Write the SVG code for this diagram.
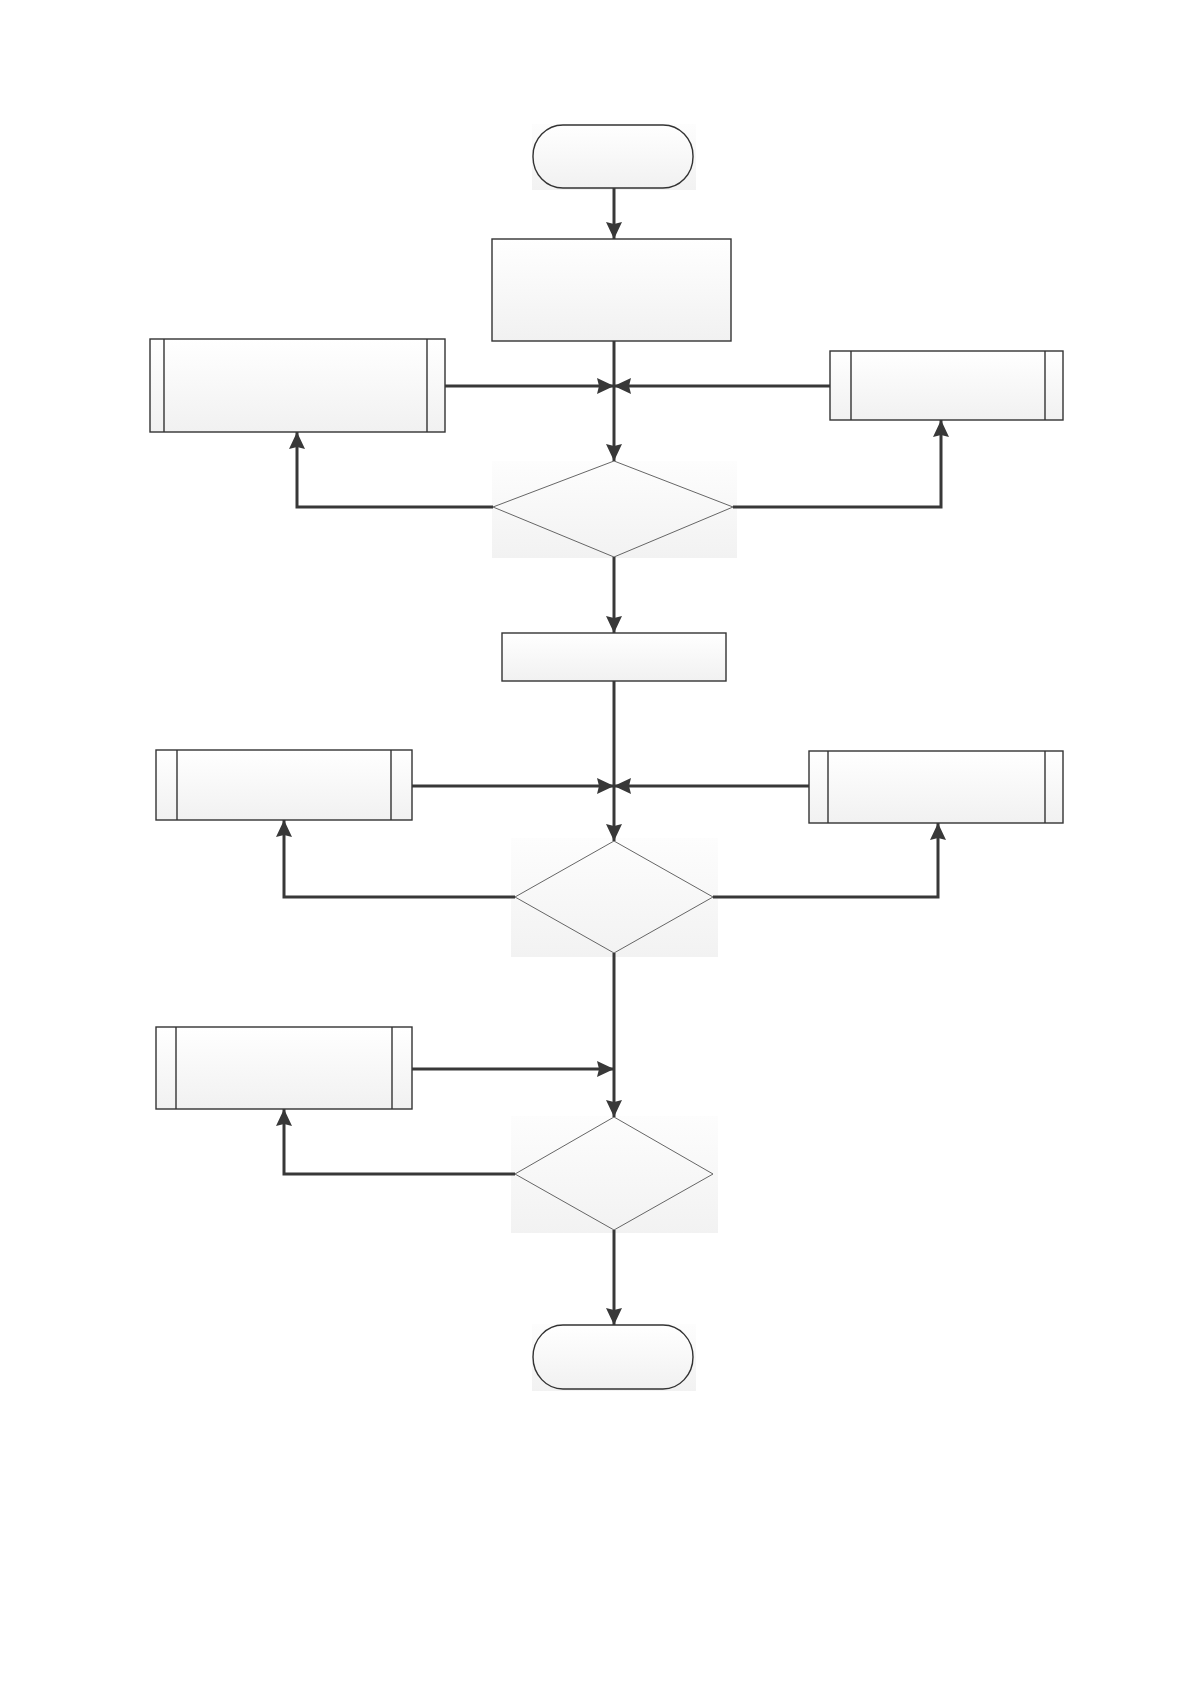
<svg xmlns="http://www.w3.org/2000/svg" width="1191" height="1684" viewBox="0 0 1191 1684">
<style>
.box{fill:url(#g);stroke:#333;stroke-width:1.4}
.inner{stroke:#333;stroke-width:1.4;fill:none}
.dia{fill:none;stroke:#555;stroke-width:0.9}
.bg{fill:url(#gb);stroke:none}
.con{fill:none;stroke:#383838;stroke-width:3}
</style>
<defs>
<linearGradient id="g" x1="0" y1="0" x2="0" y2="1">
<stop offset="0" stop-color="#ffffff"/>
<stop offset="1" stop-color="#f1f1f1"/>
</linearGradient>
<linearGradient id="gb" x1="0" y1="0" x2="0" y2="1">
<stop offset="0" stop-color="#fdfdfd"/>
<stop offset="1" stop-color="#f2f2f2"/>
</linearGradient>
<marker id="a" markerUnits="userSpaceOnUse" markerWidth="20" markerHeight="18" refX="17" refY="8" orient="auto">
<path d="M0,0 L17,8 L0,16 L2,8 z" fill="#383838"/>
</marker>
</defs>
<rect width="1191" height="1684" fill="#ffffff"/>

<g id="start">
<rect class="bg" x="532" y="124" width="164" height="66"/>
<rect class="box" x="533" y="125" width="160" height="63" rx="30" ry="31"/>
</g>
<g id="process1">
<rect class="box" x="492" y="239" width="239" height="102"/>
</g>
<g id="sub-left-1">
<rect class="box" x="150" y="339" width="295" height="93"/>
<line class="inner" x1="164" y1="339" x2="164" y2="432"/>
<line class="inner" x1="427" y1="339" x2="427" y2="432"/>
</g>
<g id="sub-right-1">
<rect class="box" x="830" y="351" width="233" height="69"/>
<line class="inner" x1="851" y1="351" x2="851" y2="420"/>
<line class="inner" x1="1045" y1="351" x2="1045" y2="420"/>
</g>
<g id="decision1">
<rect class="bg" x="492" y="461" width="245" height="97"/>
<polygon class="dia" points="614,461 733,507 614,557 493,507"/>
</g>
<g id="process2">
<rect class="box" x="502" y="633" width="224" height="48"/>
</g>
<g id="sub-left-2">
<rect class="box" x="156" y="750" width="256" height="70"/>
<line class="inner" x1="177" y1="750" x2="177" y2="820"/>
<line class="inner" x1="391" y1="750" x2="391" y2="820"/>
</g>
<g id="sub-right-2">
<rect class="box" x="809" y="751" width="254" height="72"/>
<line class="inner" x1="828" y1="751" x2="828" y2="823"/>
<line class="inner" x1="1045" y1="751" x2="1045" y2="823"/>
</g>
<g id="decision2">
<rect class="bg" x="511" y="838" width="207" height="119"/>
<polygon class="dia" points="614,841 713,897 614,953 515,897"/>
</g>
<g id="sub-left-3">
<rect class="box" x="156" y="1027" width="256" height="82"/>
<line class="inner" x1="176" y1="1027" x2="176" y2="1109"/>
<line class="inner" x1="392" y1="1027" x2="392" y2="1109"/>
</g>
<g id="decision3">
<rect class="bg" x="511" y="1116" width="207" height="117"/>
<polygon class="dia" points="614,1117 713,1174 614,1230 515,1174"/>
</g>
<g id="end">
<rect class="bg" x="532" y="1324" width="164" height="67"/>
<rect class="box" x="533" y="1325" width="160" height="64" rx="30" ry="32"/>
</g>

<g id="connectors">
<line class="con" x1="614" y1="188" x2="614" y2="239" marker-end="url(#a)"/>
<line class="con" x1="614" y1="341" x2="614" y2="461" marker-end="url(#a)"/>
<line class="con" x1="445" y1="386" x2="614" y2="386" marker-end="url(#a)"/>
<line class="con" x1="830" y1="386" x2="614" y2="386" marker-end="url(#a)"/>
<polyline class="con" points="493,507 297,507 297,432" marker-end="url(#a)"/>
<polyline class="con" points="733,507 941,507 941,420" marker-end="url(#a)"/>
<line class="con" x1="614" y1="557" x2="614" y2="633" marker-end="url(#a)"/>
<line class="con" x1="614" y1="681" x2="614" y2="841" marker-end="url(#a)"/>
<line class="con" x1="412" y1="786" x2="614" y2="786" marker-end="url(#a)"/>
<line class="con" x1="809" y1="786" x2="614" y2="786" marker-end="url(#a)"/>
<polyline class="con" points="515,897 284,897 284,820" marker-end="url(#a)"/>
<polyline class="con" points="713,897 938,897 938,823" marker-end="url(#a)"/>
<line class="con" x1="614" y1="953" x2="614" y2="1117" marker-end="url(#a)"/>
<line class="con" x1="412" y1="1069" x2="614" y2="1069" marker-end="url(#a)"/>
<polyline class="con" points="515,1174 284,1174 284,1109" marker-end="url(#a)"/>
<line class="con" x1="614" y1="1230" x2="614" y2="1325" marker-end="url(#a)"/>
</g>
</svg>
